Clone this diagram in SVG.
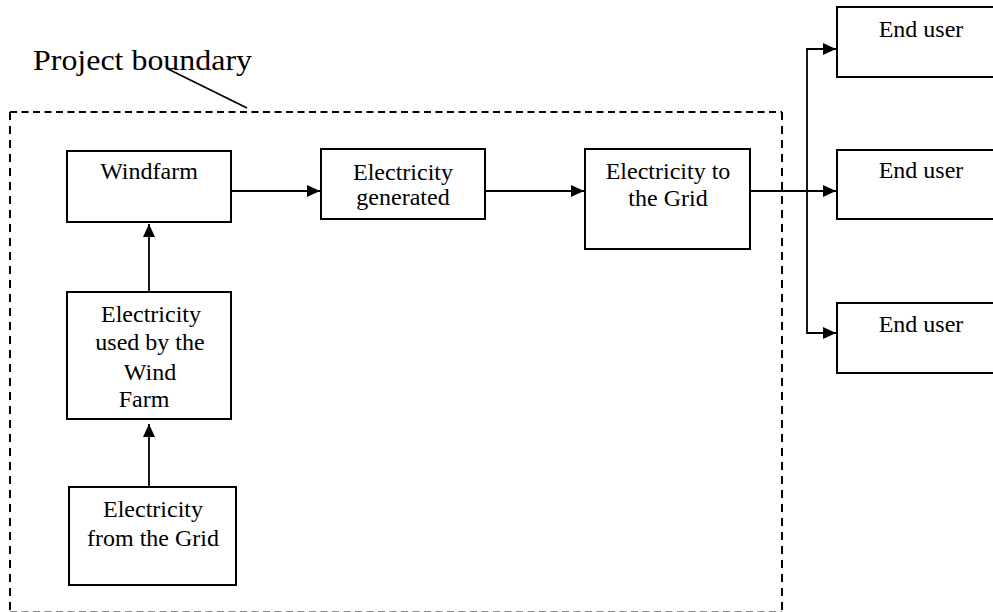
<svg xmlns="http://www.w3.org/2000/svg" width="993" height="612" viewBox="0 0 993 612">
<style>
.box{fill:#fff;stroke:#000;stroke-width:2}
.t{font-family:"Liberation Serif","Times New Roman",serif;font-size:24px;fill:#000;text-anchor:middle}
.c{fill:none;stroke:#000;stroke-width:1.8}
.dh{fill:none;stroke:#000;stroke-width:2;stroke-dasharray:7 4.5}
.dv{fill:none;stroke:#000;stroke-width:2;stroke-dasharray:8 6}
</style>
<defs>
<marker id="ah" markerUnits="userSpaceOnUse" markerWidth="14" markerHeight="12" refX="13" refY="6" orient="auto">
<path d="M0,0 L13,6 L0,12 z" fill="#000"/>
</marker>
</defs>
<rect width="993" height="612" fill="#fff"/>
<g id="boundary">
<line class="dh" x1="10" y1="112" x2="782" y2="112"/>
<line class="dv" x1="10" y1="112" x2="10" y2="611"/>
<line class="dv" x1="782" y1="112" x2="782" y2="611"/>
<line x1="10" y1="611.5" x2="782" y2="611.5" stroke="#888" stroke-width="1.2" stroke-dasharray="7 4.5"/>
<text x="33" y="70" font-family="'Liberation Serif','Times New Roman',serif" font-size="29" textLength="219" lengthAdjust="spacingAndGlyphs">Project boundary</text>
<line x1="168" y1="69" x2="247" y2="108" stroke="#000" stroke-width="1.8"/>
</g>
<g id="connectors">
<line class="c" x1="231" y1="191" x2="320" y2="191" marker-end="url(#ah)"/>
<line class="c" x1="484" y1="191" x2="584" y2="191" marker-end="url(#ah)"/>
<line class="c" x1="749" y1="191" x2="836" y2="191" marker-end="url(#ah)"/>
<polyline class="c" points="836,49 807,49 807,333 836,333"/>
<line class="c" x1="807" y1="49" x2="836" y2="49" marker-end="url(#ah)"/>
<line class="c" x1="807" y1="333" x2="836" y2="333" marker-end="url(#ah)"/>
<line class="c" x1="149" y1="291" x2="149" y2="224" marker-end="url(#ah)"/>
<line class="c" x1="149" y1="487" x2="149" y2="424" marker-end="url(#ah)"/>
</g>
<g id="windfarm">
<rect class="box" x="67" y="151" width="164" height="71"/>
<text class="t" x="149" y="179">Windfarm</text>
</g>
<g id="generated">
<rect class="box" x="321" y="149" width="164" height="70"/>
<text class="t" x="403" y="180">Electricity</text>
<text class="t" x="403" y="205">generated</text>
</g>
<g id="to-grid">
<rect class="box" x="585" y="149" width="165" height="100"/>
<text class="t" x="668" y="179">Electricity to</text>
<text class="t" x="668" y="206">the Grid</text>
</g>
<g id="used">
<rect class="box" x="67" y="292" width="164" height="127"/>
<text class="t" x="151" y="322">Electricity</text>
<text class="t" x="150" y="350">used by the</text>
<text class="t" x="150" y="380">Wind</text>
<text class="t" x="144" y="407">Farm</text>
</g>
<g id="from-grid">
<rect class="box" x="69" y="487" width="167" height="98"/>
<text class="t" x="153" y="517">Electricity</text>
<text class="t" x="153" y="546">from the Grid</text>
</g>
<g id="end-user-1">
<rect class="box" x="837" y="7" width="170" height="70"/>
<text class="t" x="921" y="37">End user</text>
</g>
<g id="end-user-2">
<rect class="box" x="837" y="150" width="170" height="69"/>
<text class="t" x="921" y="178">End user</text>
</g>
<g id="end-user-3">
<rect class="box" x="837" y="303" width="170" height="70"/>
<text class="t" x="921" y="332">End user</text>
</g>
</svg>
